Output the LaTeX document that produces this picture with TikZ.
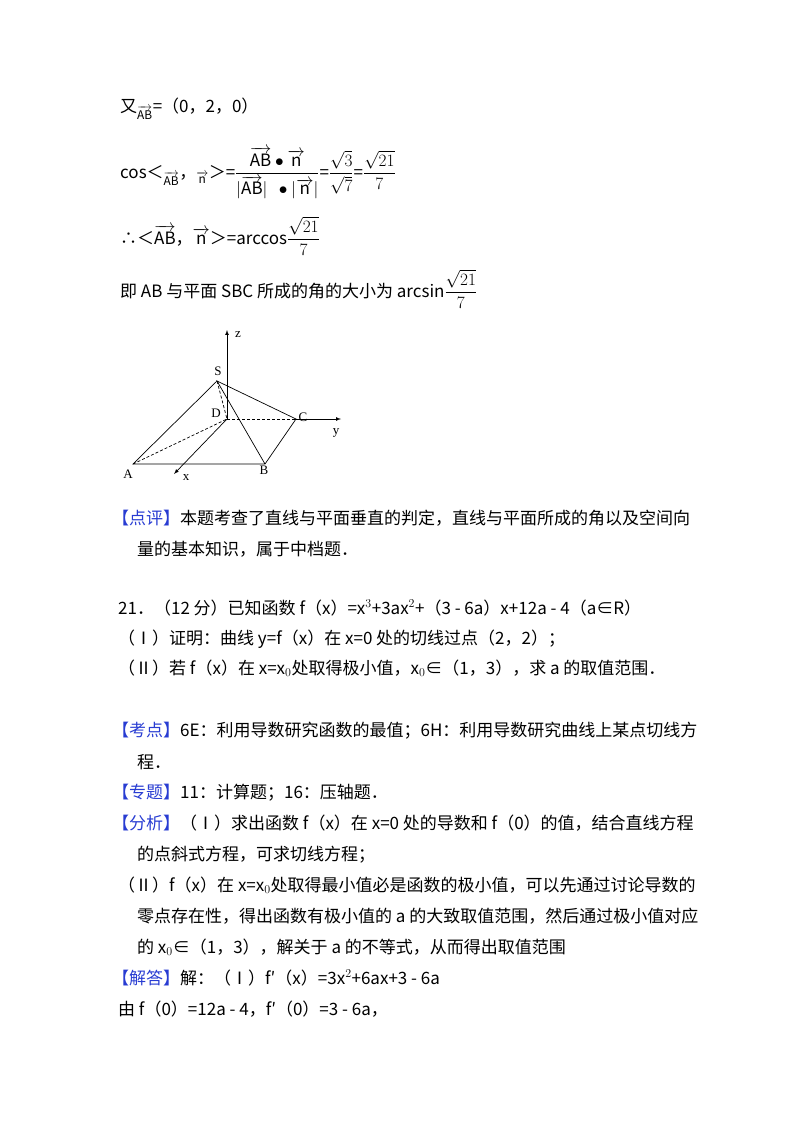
\documentclass[tikz,border=0pt]{standalone}
\usepackage{amsmath}
\usepackage{fontspec}
\setmainfont{Noto Sans CJK SC}
\newfontfamily\lblfont{Liberation Serif}
\definecolor{tagblue}{RGB}{40,60,210}
\tikzset{
  txt/.style={anchor=base west,inner sep=0pt,font=\fontsize{17}{20}\selectfont},
  lbl/.style={inner sep=0pt,font=\fontsize{13}{15}\lblfont\selectfont},
  edge/.style={line width=0.7pt},
  hid/.style={line width=0.7pt,dashed,dash pattern=on 3pt off 2pt},
  axis/.style={line width=0.7pt,-latex}
}
\newcommand{\tg}[1]{\textcolor{tagblue}{【#1】}}
\begin{document}
\begin{tikzpicture}[x=1pt,y=-1pt]
\useasboundingbox (0,0) rectangle (800,1132);
% formulas
\node[txt] (l1) at (120,112) {又$_{\overrightarrow{\mathrm{AB}}}$=（0，2，0）};
\node[txt] (l2) at (120,178) {cos＜$_{\overrightarrow{\mathrm{AB}}}$，$_{\overrightarrow{\mathrm{n}}}$＞=$\dfrac{\overrightarrow{\mathrm{AB}}\bullet\overrightarrow{\mathrm{n}}}{|\overrightarrow{\mathrm{AB}}|\ \ \bullet|\overrightarrow{\mathrm{n}}|}$=$\dfrac{\sqrt{3}}{\sqrt{7}}$=$\dfrac{\sqrt{21}}{7}$};
\node[txt] (l3) at (120,244) {∴＜$\overrightarrow{\mathrm{AB}}$，$\overrightarrow{\mathrm{n}}$＞=arccos$\dfrac{\sqrt{21}}{7}$};
\node[txt] (l4) at (120,297) {即 AB 与平面 SBC 所成的角的大小为 arcsin$\dfrac{\sqrt{21}}{7}$};
% diagram
\coordinate (D) at (227,419);
\coordinate (S) at (217,381);
\coordinate (C) at (296,419);
\coordinate (A) at (133,464);
\coordinate (B) at (265,464);
\coordinate (Z) at (227,330);
\coordinate (Y) at (341,419);
\coordinate (X) at (174,474);
\draw[axis] (D) -- (Z);
\draw[axis] (C) -- (Y);
\draw[axis] (D) -- (X);
\draw[hid] (D) -- (C);
\draw[hid] (A) -- (D);
\draw[hid] (S) -- (D);
\draw[edge] (S) -- (A) -- (B) -- (C) -- (S) -- (B);
\node[lbl] (lz) at (238,335) {z};
\node[lbl] (lS) at (218,371) {S};
\node[lbl] (lD) at (216,413) {D};
\node[lbl] (lC) at (303,417) {C};
\node[lbl] (ly) at (336,433) {y};
\node[lbl] (lA) at (128,474) {A};
\node[lbl] (lB) at (264,470) {B};
\node[lbl] (lx) at (186,478) {x};
% text
\node[txt] (t1) at (112,524) {\tg{点评}本题考查了直线与平面垂直的判定，直线与平面所成的角以及空间向};
\node[txt] (t2) at (137,555) {量的基本知识，属于中档题．};
\node[txt] (t3) at (118,614) {21．（12 分）已知函数 f（x）=x$^3$+3ax$^2$+（3 - 6a）x+12a - 4（a∈R）};
\node[txt] (t4) at (118,644) {（Ⅰ）证明：曲线 y=f（x）在 x=0 处的切线过点（2，2）；};
\node[txt] (t5) at (118,674) {（Ⅱ）若 f（x）在 x=x$_0$处取得极小值，x$_0$∈（1，3），求 a 的取值范围．};
\node[txt] (t6) at (112,736) {\tg{考点}6E：利用导数研究函数的最值；6H：利用导数研究曲线上某点切线方};
\node[txt] (t7) at (137,768) {程．};
\node[txt] (t8) at (112,798) {\tg{专题}11：计算题；16：压轴题．};
\node[txt] (t9) at (112,829) {\tg{分析}（Ⅰ）求出函数 f（x）在 x=0 处的导数和 f（0）的值，结合直线方程};
\node[txt] (t10) at (137,860) {的点斜式方程，可求切线方程；};
\node[txt] (t11) at (118,891) {（Ⅱ）f（x）在 x=x$_0$处取得最小值必是函数的极小值，可以先通过讨论导数的};
\node[txt] (t12) at (137,922) {零点存在性，得出函数有极小值的 a 的大致取值范围，然后通过极小值对应};
\node[txt] (t13) at (137,953) {的 x$_0$∈（1，3），解关于 a 的不等式，从而得出取值范围};
\node[txt] (t14) at (112,984) {\tg{解答}解：（Ⅰ）f′（x）=3x$^2$+6ax+3 - 6a};
\node[txt] (t15) at (118,1015) {由 f（0）=12a - 4，f′（0）=3 - 6a，};
\end{tikzpicture}
\end{document}
